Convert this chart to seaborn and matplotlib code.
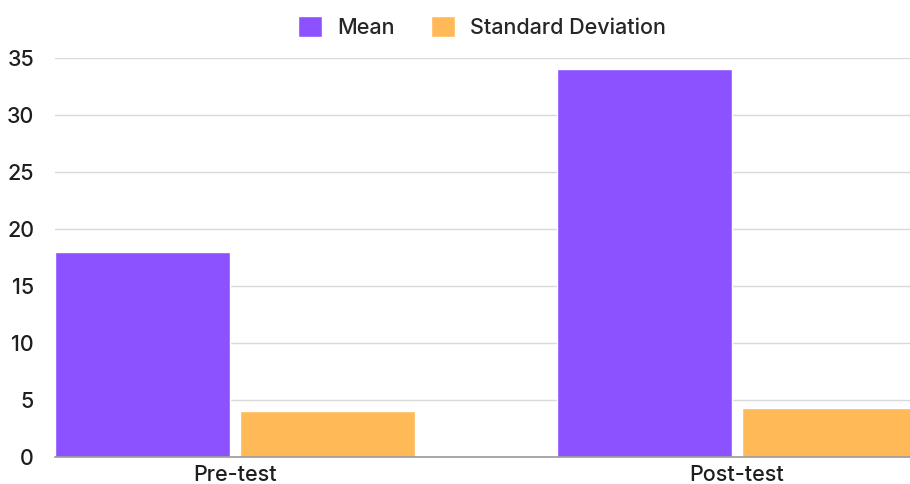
import pandas as pd
import matplotlib.pyplot as plt
import seaborn as sns

tests = ['Pre-test', 'Post-test']
mean_vals = [18, 34]
sd_vals = [4.0, 4.3]
series = ['Mean', 'Standard Deviation']
colors = ['#8C52FF', '#FFBA57']

df = pd.DataFrame({
    'test': tests * 2,
    'stat': [series[0]] * 2 + [series[1]] * 2,
    'value': mean_vals + sd_vals,
})

sns.set_style('white')
plt.rcParams['font.family'] = ['Inter', 'DejaVu Sans']
plt.rcParams['font.weight'] = 'medium'

fig = plt.figure(figsize=(9.10, 4.84), dpi=100)
ax = fig.add_axes([55 / 910, 1 - 457 / 484, 1 - 55 / 910, (457 - 58) / 484])

sns.barplot(data=df, x='test', y='value', hue='stat', palette=colors,
            width=0.737, gap=0.054, saturation=1, ax=ax, legend=True)

ax.set_xlim(-0.3586, 1.3446)
ax.set_ylim(0, 35)
ax.set_yticks(range(0, 36, 5))
ax.yaxis.grid(True, color='#d9d9d9', linewidth=1)
ax.set_axisbelow(True)
for s in ['top', 'right', 'left']:
    ax.spines[s].set_visible(False)
ax.spines['bottom'].set_color('#9a9a9a')
ax.spines['bottom'].set_linewidth(1.2)
ax.set_xlabel('')
ax.set_ylabel('')
ax.tick_params(axis='y', length=0, pad=15, labelsize=15.5, colors='#1e1e1e')
ax.tick_params(axis='x', length=0, pad=6, labelsize=15.5, colors='#1e1e1e')

handles, labels = ax.get_legend_handles_labels()
ax.get_legend().remove()
fig.legend(handles, labels, loc='center', bbox_to_anchor=(482 / 910, 1 - 27 / 484),
           ncol=2, frameon=False, fontsize=15.5, handlelength=1.1, handleheight=1.1,
           handletextpad=0.7, columnspacing=1.7)

fig.savefig('out.png', dpi=100)
